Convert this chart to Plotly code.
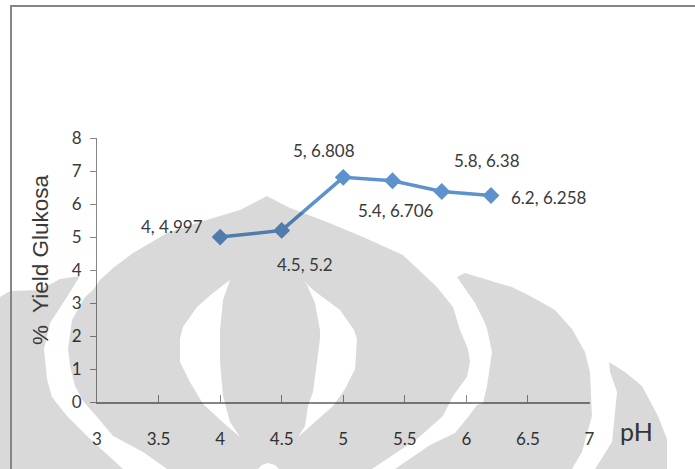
import plotly.graph_objects as go

W, H = 695, 469

# Series
ph = [4, 4.5, 5, 5.4, 5.8, 6.2]
yield_glukosa = [4.997, 5.2, 6.808, 6.706, 6.38, 6.258]

# Axis ticks
x_ticks = [3, 3.5, 4, 4.5, 5, 5.5, 6, 6.5, 7]
y_ticks = [0, 1, 2, 3, 4, 5, 6, 7, 8]

# Pixel offset of each data label from its point
label_dx = [-48, 23, -19, 3, 45, 58]
label_dy = [11, -34, 27, -30, 31, -2]

# Background emblem outlines, in page pixels
LEFT_BAND = [(0, 297), (10, 291), (40, 290), (60, 279), (80, 276), (67, 297), (50, 323), (44, 349),
             (47, 379), (52, 397), (67, 416), (87, 436), (123, 469), (0, 469)]
CENTER = [(267, 196), (290, 208), (327, 222), (363, 237), (403, 255), (437, 287), (453, 307), (460, 330),
          (468, 349), (470, 362), (467, 377), (453, 396), (443, 416), (417, 439), (372, 469),
          (279, 469), (275, 465), (268, 463), (262, 465), (258, 469),
          (167, 469), (143, 452), (113, 436), (97, 417), (83, 401), (75, 386), (70, 366), (68, 349),
          (72, 320), (85, 297), (93, 290), (100, 280), (113, 268), (133, 253), (167, 233), (200, 222), (240, 210)]
LEFT_CRESCENT = [(230, 280), (213, 293), (197, 307), (183, 327), (180, 339), (180, 362), (190, 382),
                 (203, 404), (227, 426), (240, 437), (230, 422), (223, 396), (220, 362), (220, 330), (223, 300)]
RIGHT_CRESCENT = [(303, 280), (313, 290), (340, 310), (354, 330), (357, 339), (355, 369), (345, 389),
                  (333, 406), (298, 437), (305, 426), (308, 406), (313, 392), (317, 362), (320, 339),
                  (320, 330), (315, 303), (307, 285)]
RIGHT_BAND = [(457, 277), (465, 273), (498, 283), (512, 287), (532, 297), (555, 310), (572, 329), (585, 352),
              (590, 372), (592, 416), (582, 452), (572, 469), (395, 469), (430, 445), (455, 433), (468, 417),
              (477, 405), (483, 403), (487, 386), (492, 352), (487, 329), (485, 323), (475, 303)]
FAR_RIGHT = [(609, 362), (625, 372), (642, 386), (658, 416), (667, 439), (667, 469), (595, 469),
             (612, 442), (617, 392), (610, 372)]
EMBLEM = [LEFT_BAND, CENTER, LEFT_CRESCENT, RIGHT_CRESCENT, RIGHT_BAND, FAR_RIGHT]


def subpath(points):
    body = " L ".join(f"{x / W:.5f},{1 - y / H:.5f}" for x, y in points)
    return f"M {body} Z"


fig = go.Figure(
    go.Scatter(
        x=ph,
        y=yield_glukosa,
        mode="lines+markers",
        line=dict(color="#5e92cc", width=3.5),
        marker=dict(symbol="diamond", size=13, color="#5e92cc"),
        showlegend=False,
        hoverinfo="x+y",
    )
)

TEXT = "#3a3a3a"
fig.update_layout(
    width=W,
    height=H,
    autosize=False,
    margin=dict(l=0, r=0, t=0, b=0, autoexpand=False),
    paper_bgcolor="white",
    plot_bgcolor="rgba(0,0,0,0)",
    font=dict(family="Lato, sans-serif", size=17, color=TEXT),
    xaxis=dict(
        domain=[97 / W, 589.5 / W],
        range=[3, 7],
        tickvals=x_ticks,
        ticktext=[str(v) for v in x_ticks],
        ticks="inside",
        ticklen=7,
        tickcolor="#868686",
        tickwidth=1,
        showgrid=False,
        zeroline=False,
        showline=True,
        linecolor="#868686",
        linewidth=1.5,
        ticklabelstandoff=21,
        tickfont=dict(size=17, color=TEXT),
    ),
    yaxis=dict(
        domain=[1 - 402 / H, 1 - 138 / H],
        range=[0, 8],
        tickvals=y_ticks,
        ticktext=[str(v) for v in y_ticks],
        ticks="outside",
        ticklen=6,
        tickcolor="#868686",
        tickwidth=1,
        showgrid=False,
        zeroline=False,
        showline=True,
        linecolor="#868686",
        linewidth=1,
        ticklabelstandoff=5,
        tickfont=dict(size=17, color=TEXT),
    ),
    annotations=[
        dict(
            x=x, y=y, xref="x", yref="y", text=f"{x}, {y}", showarrow=False,
            xshift=dx, yshift=dy, font=dict(family="Lato, sans-serif", size=17, color=TEXT),
        )
        for x, y, dx, dy in zip(ph, yield_glukosa, label_dx, label_dy)
    ]
    + [
        dict(
            x=40 / W, y=1 - 260 / H, xref="paper", yref="paper", xanchor="center", yanchor="middle",
            text="%  Yield Glukosa", textangle=-90, showarrow=False,
            font=dict(family="Liberation Sans, sans-serif", size=22.5, color="#3a3a3a"),
        ),
        dict(
            x=636 / W, y=1 - 431 / H, xref="paper", yref="paper", xanchor="center", yanchor="middle",
            text="pH", showarrow=False,
            font=dict(family="Lato, sans-serif", size=25, color="#333333"),
        ),
    ],
    shapes=[
        # Emblem sits over the plot and darkens whatever it covers
        dict(
            type="path", xref="paper", yref="paper", layer="above",
            path=" ".join(subpath(p) for p in EMBLEM),
            fillcolor="rgba(0,0,0,0.15)", line=dict(width=0), fillrule="evenodd",
        ),
        # Frame around the page
        dict(type="line", xref="paper", yref="paper", x0=11 / W, x1=11 / W, y0=0, y1=1 - 6 / H,
             line=dict(color="#868686", width=2)),
        dict(type="line", xref="paper", yref="paper", x0=10 / W, x1=1, y0=1 - 6 / H, y1=1 - 6 / H,
             line=dict(color="#868686", width=2)),
    ],
)

fig.write_html("out.html")
